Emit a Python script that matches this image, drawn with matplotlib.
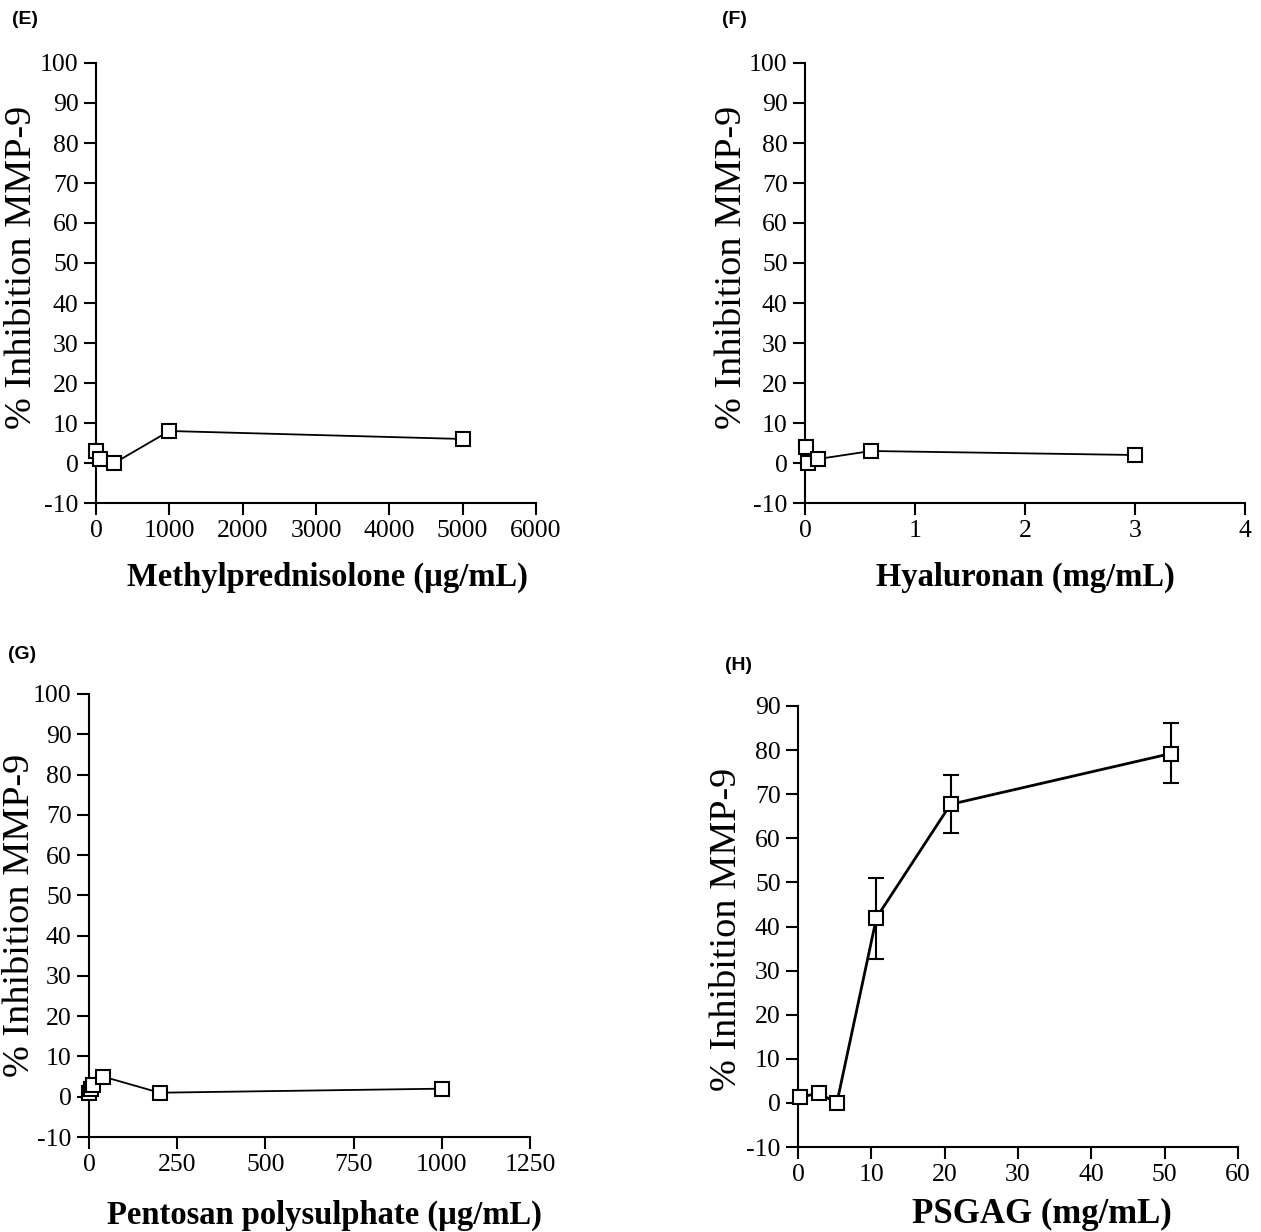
import matplotlib
matplotlib.use("Agg")
import matplotlib.pyplot as plt

plt.rcParams["axes.unicode_minus"] = False

# ---- data ----
e_x = [4, 60, 250, 1000, 5000]
e_y = [3, 1, 0, 8, 6]

f_x = [0.01, 0.03, 0.12, 0.6, 3.0]
f_y = [4, 0, 1, 3, 2]

g_x = [1, 5, 10, 40, 200, 1000]
g_y = [1, 2, 3, 5, 1, 2]

h_x = [0.3, 2.8, 5.3, 10.7, 20.8, 50.8]
h_y = [1.3, 2.2, 0.0, 42.0, 67.7, 79.2]
h_err_low = [0, 0, 0, 9.3, 6.6, 6.7]
h_err_high = [0, 0, 0, 8.9, 6.7, 7.0]

e_xticks = [0, 1000, 2000, 3000, 4000, 5000, 6000]
f_xticks = [0, 1, 2, 3, 4]
g_xticks = [0, 250, 500, 750, 1000, 1250]
h_xticks = [0, 10, 20, 30, 40, 50, 60]
y_ticks_100 = list(range(-10, 101, 10))
y_ticks_90 = list(range(-10, 91, 10))

e_xlabel = "Methylprednisolone (\u00b5g/mL)"
f_xlabel = "Hyaluronan (mg/mL)"
g_xlabel = "Pentosan polysulphate (\u00b5g/mL)"
h_xlabel = "PSGAG (mg/mL)"
ylabel = "% Inhibition MMP-9"

W, H = 1261, 1232
fig = plt.figure(figsize=(W / 100, H / 100), dpi=100)

SERIF = "Liberation Serif"
TICK_FS = 18.5
XLABEL_FS = 23.5
YLABEL_FS = 27.5


def make_ax(left, right, top, bottom):
    return fig.add_axes([left / W, 1 - bottom / H, (right - left) / W, (bottom - top) / H])


def style(ax, xticks, yticks, xlim, ylim, xlabel, xl_pos, yl_pos, xl_fs=XLABEL_FS):
    ax.set_xlim(*xlim)
    ax.set_ylim(*ylim)
    ax.set_xticks(xticks)
    ax.set_yticks(yticks)
    for s in ("top", "right"):
        ax.spines[s].set_visible(False)
    for s in ("left", "bottom"):
        ax.spines[s].set_linewidth(1.5)
    ax.tick_params(direction="out", length=8.5, width=1.5, labelsize=TICK_FS, pad=4)
    for lab in ax.get_xticklabels() + ax.get_yticklabels():
        lab.set_fontfamily(SERIF)
    ax.set_xlabel(xlabel, fontfamily=SERIF, fontweight="bold", fontsize=xl_fs)
    ax.xaxis.set_label_coords(*xl_pos)
    ax.xaxis.label.set_verticalalignment("center")
    ax.set_ylabel(ylabel, fontfamily=SERIF, fontsize=YLABEL_FS)
    ax.yaxis.set_label_coords(*yl_pos)
    ax.yaxis.label.set_verticalalignment("center")
    ax.set_facecolor("none")


mk = dict(marker="s", markersize=10.5, markerfacecolor="white", markeredgecolor="black",
          markeredgewidth=1.5, color="black", clip_on=False, zorder=3)

# E
axE = make_ax(96, 536, 63, 503)
axE.plot(e_x, e_y, linewidth=1.3, **mk)
style(axE, e_xticks, y_ticks_100, (0, 6000), (-10, 100), e_xlabel,
      (0.525, -0.168), (-0.168, 0.536))

# F
axF = make_ax(805, 1245, 63, 503)
axF.plot(f_x, f_y, linewidth=1.3, **mk)
style(axF, f_xticks, y_ticks_100, (0, 4), (-10, 100), f_xlabel,
      (0.5, -0.168), (-0.166, 0.536))

# G
axG = make_ax(89, 530, 694, 1137)
axG.plot(g_x, g_y, linewidth=1.3, **mk)
style(axG, g_xticks, y_ticks_100, (0, 1250), (-10, 100), g_xlabel,
      (0.535, -0.176), (-0.156, 0.5))

# H
axH = make_ax(798, 1238, 706, 1147)
axH.errorbar(h_x, h_y, yerr=[h_err_low, h_err_high], fmt="none", ecolor="black",
             elinewidth=1.5, capsize=5.5, capthick=1.5, clip_on=False, zorder=2)
axH.plot(h_x, h_y, linewidth=2.0, **mk)
style(axH, h_xticks, y_ticks_90, (0, 60), (-10, 90), h_xlabel,
      (0.555, -0.154), (-0.161, 0.494), xl_fs=25)

# panel letters
for txt, x, y in [("(E)", 12, 20), ("(F)", 722, 20), ("(G)", 8, 655), ("(H)", 725, 665)]:
    fig.text(x / W, 1 - y / H, txt, fontfamily="Liberation Sans", fontweight="bold",
             fontsize=14, ha="left", va="center")

fig.savefig("out.png", dpi=100)
